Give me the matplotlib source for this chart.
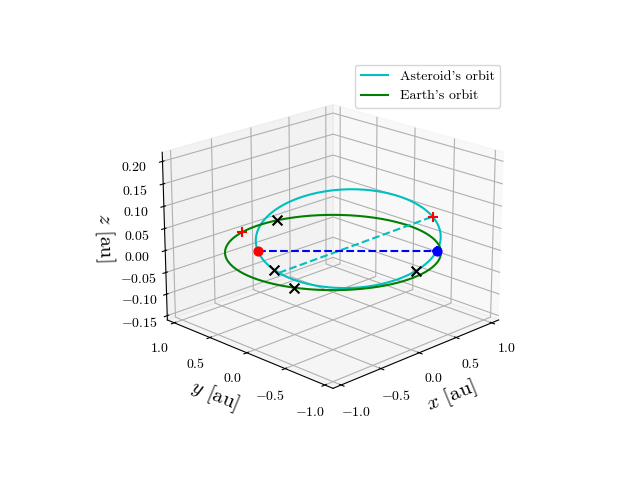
import matplotlib
matplotlib.use("Agg")
import matplotlib.pyplot as plt
import numpy as np

plt.rcParams["font.family"] = "serif"
plt.rcParams["font.serif"] = ["cmr10"]
plt.rcParams["mathtext.fontset"] = "cm"
plt.rcParams["axes.formatter.use_mathtext"] = True

# orbital elements
earth_radius = 1.0
ast_p = 0.81           # semi-latus rectum [au]
ast_ecc = 0.32
ast_argperi_deg = 60.0
ast_incl_deg = -2.5
node_dir_deg = 135.0   # direction of the red node

# marker positions: earth longitude / asteroid argument of latitude, degrees
earth_cross_deg = [78.0, 205.0]
ast_cross_deg = [32.0, 155.0]
earth_plus_deg = [105.0]
ast_plus_deg = [213.0]
ast_dash_deg = [38.0, 213.0]

inc = np.radians(ast_incl_deg)
w = np.radians(node_dir_deg)
om = np.radians(ast_argperi_deg)


def ast_pos(u_deg):
    u = np.radians(np.asarray(u_deg, dtype=float))
    r = ast_p / (1 + ast_ecc * np.cos(u - om))
    xp, yp = r * np.cos(u), r * np.sin(u)
    yi, z = yp * np.cos(inc), yp * np.sin(inc)
    return xp * np.cos(w) - yi * np.sin(w), xp * np.sin(w) + yi * np.cos(w), z


def earth_pos(lon_deg):
    t = np.radians(np.asarray(lon_deg, dtype=float))
    return earth_radius * np.cos(t), earth_radius * np.sin(t), np.zeros_like(t)


fig = plt.figure(figsize=(6.4, 4.8))
ax = fig.add_subplot(projection="3d")
ax.view_init(elev=20, azim=-135)

full = np.linspace(0, 360, 400)
ax.plot(*ast_pos(full), color="c", label="Asteroid's orbit")
ax.plot(*earth_pos(full), color="g", label="Earth's orbit")

ax.plot(*ast_pos(ast_dash_deg), color="c", ls="--")
p0, p1 = ast_pos([0.0]), ast_pos([180.0])
ax.plot([p0[0][0], p1[0][0]], [p0[1][0], p1[1][0]], [0, 0], color="b", ls="--")
ax.scatter(*p0, color="r", s=40, depthshade=False)
ax.scatter(*p1, color="b", s=40, depthshade=False)
ax.scatter(*p1, color="b", marker="+", s=60, depthshade=False)

ax.scatter(*earth_pos(earth_cross_deg), color="k", marker="x", s=50, depthshade=False)
ax.scatter(*ast_pos(ast_cross_deg), color="k", marker="x", s=50, depthshade=False)
ax.scatter(*earth_pos(earth_plus_deg), color="r", marker="+", s=60, depthshade=False)
ax.scatter(*ast_pos(ast_plus_deg), color="r", marker="+", s=60, depthshade=False)

ax.set_xlim(-1.1, 1.1)
ax.set_ylim(-1.1, 1.1)
ax.set_zlim(-0.16, 0.22)
ax.set_xticks([-1.0, -0.5, 0.0, 0.5, 1.0])
ax.set_yticks([-1.0, -0.5, 0.0, 0.5, 1.0])
ax.set_zticks([-0.15, -0.10, -0.05, 0.0, 0.05, 0.10, 0.15, 0.20])
ax.set_xlabel("$x$ [au]", fontsize=15)
ax.set_ylabel("$y$ [au]", fontsize=15)
ax.set_zlabel("$z$ [au]", fontsize=15)
ax.legend(loc="upper right", bbox_to_anchor=(0.792, 0.88),
          bbox_transform=fig.transFigure, fontsize=10)

fig.savefig("out.png", dpi=100)
